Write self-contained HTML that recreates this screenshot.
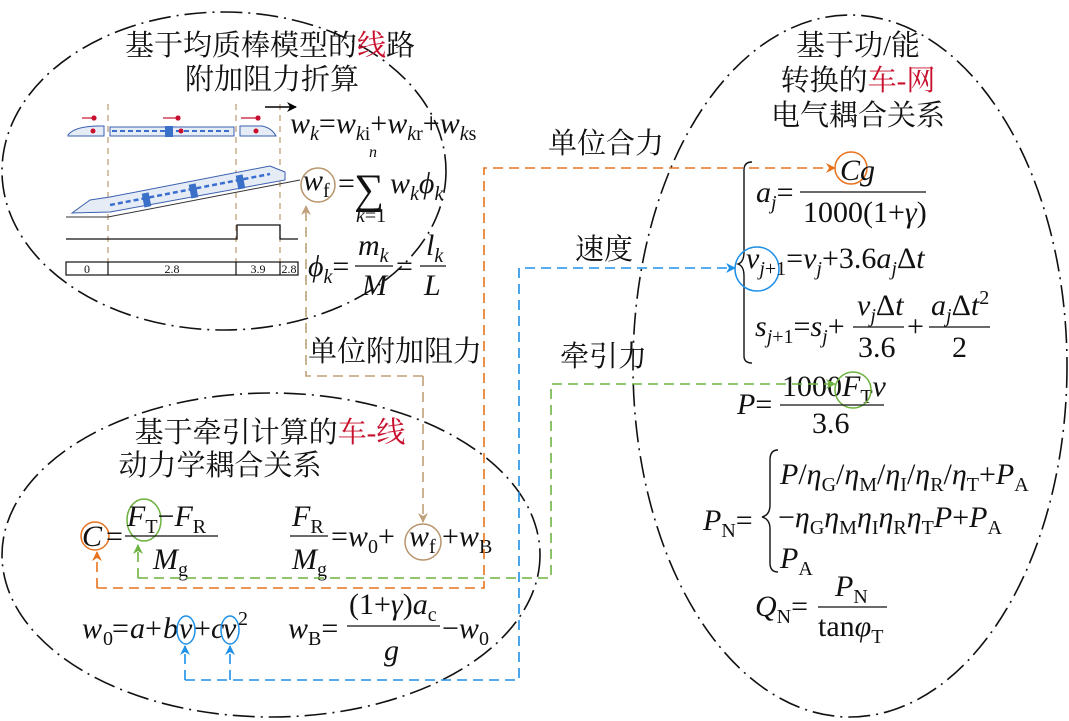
<!DOCTYPE html>
<html><head><meta charset="utf-8"><style>
html,body{margin:0;padding:0;background:#fff;}
svg{display:block}
.cn{font-family:"Liberation Serif","Noto Serif CJK SC","Noto Sans CJK SC",serif;font-size:29px;fill:#111}
.m{font-family:"Liberation Serif",serif;font-size:30px;font-style:italic;fill:#111}
.r{font-style:normal}
.s{font-size:20px}
</style></head><body>
<svg width="1069" height="721" viewBox="0 0 1069 721" xmlns="http://www.w3.org/2000/svg">
<defs>
<marker id="ao" markerWidth="10" markerHeight="10" refX="9" refY="5" orient="auto" markerUnits="userSpaceOnUse"><path d="M0,0 L10,5 L0,10 L3,5z" fill="#e8731e"/></marker>
<marker id="ag" markerWidth="10" markerHeight="10" refX="9" refY="5" orient="auto" markerUnits="userSpaceOnUse"><path d="M0,0 L10,5 L0,10 L3,5z" fill="#6db33f"/></marker>
<marker id="ab" markerWidth="10" markerHeight="10" refX="9" refY="5" orient="auto" markerUnits="userSpaceOnUse"><path d="M0,0 L10,5 L0,10 L3,5z" fill="#1e90e8"/></marker>
<marker id="at" markerWidth="10" markerHeight="10" refX="9" refY="5" orient="auto" markerUnits="userSpaceOnUse"><path d="M0,0 L10,5 L0,10 L3,5z" fill="#c0a07a"/></marker>
<marker id="ak" markerWidth="10" markerHeight="10" refX="9" refY="5" orient="auto" markerUnits="userSpaceOnUse"><path d="M0,0 L10,5 L0,10 L3,5z" fill="#000"/></marker>
</defs>
<g fill="none" stroke="#111" stroke-width="1.6" stroke-dasharray="22 6 2 6">
<ellipse cx="224" cy="171" rx="222" ry="159"/>
<ellipse cx="271" cy="555" rx="269" ry="162"/>
<ellipse cx="850" cy="366" rx="217" ry="351"/>
</g>
<text class="cn" x="270" y="55" text-anchor="middle">基于均质棒模型的<tspan fill="#c8102e">线</tspan>路</text>
<text class="cn" x="272" y="89" text-anchor="middle">附加阻力折算</text>
<text class="cn" x="270" y="442" text-anchor="middle">基于牵引计算的<tspan fill="#c8102e">车-线</tspan></text>
<text class="cn" x="220" y="475" text-anchor="middle">动力学耦合关系</text>
<text class="cn" x="858" y="55" text-anchor="middle">基于功/能</text>
<text class="cn" x="858" y="90" text-anchor="middle">转换的<tspan fill="#c8102e">车-网</tspan></text>
<text class="cn" x="858" y="125" text-anchor="middle">电气耦合关系</text>
<text class="cn" x="548" y="153">单位合力</text>
<text class="cn" x="575" y="259">速度</text>
<text class="cn" x="560" y="366">牵引力</text>
<text class="cn" x="308" y="361">单位附加阻力</text>

<g stroke="#c0a07a" stroke-width="1.3" stroke-dasharray="6 5">
<line x1="108" y1="104" x2="108" y2="276"/>
<line x1="236" y1="104" x2="236" y2="276"/>
<line x1="280" y1="104" x2="280" y2="276"/>
</g>
<line x1="265" y1="107" x2="296" y2="107" stroke="#000" stroke-width="1.5" marker-end="url(#ak)"/>
<g fill="#c8102e" stroke="#c8102e" stroke-width="1.2">
<line x1="82" y1="118" x2="94" y2="118"/><circle cx="94" cy="118" r="2"/>
<line x1="163" y1="118" x2="178" y2="118"/><circle cx="178" cy="118" r="2"/>
<line x1="241" y1="118" x2="258" y2="118"/><circle cx="258" cy="118" r="2"/>
</g>
<g>
<path d="M68,135 Q75,126 100,126 L104,126 L104,136 L68,136z" fill="#e6ecf6" stroke="#3a5fb0" stroke-width="1"/>
<rect x="110" y="127" width="124" height="9" fill="#e6ecf6" stroke="#3a5fb0" stroke-width="1"/>
<line x1="112" y1="131" x2="232" y2="131" stroke="#3a6fd0" stroke-width="2" stroke-dasharray="5 3"/>
<rect x="165" y="126" width="8" height="11" fill="#3a70c8"/>
<path d="M240,126 L262,126 Q272,128 276,136 L240,136z" fill="#e6ecf6" stroke="#3a5fb0" stroke-width="1"/>
<circle cx="93" cy="131" r="2.5" fill="#c8102e"/><circle cx="181" cy="131" r="2.5" fill="#c8102e"/><circle cx="256" cy="131" r="2.5" fill="#c8102e"/>
</g>
<line x1="66" y1="217" x2="108" y2="217" stroke="#333" stroke-width="1"/>
<line x1="108" y1="217" x2="300" y2="180" stroke="#333" stroke-width="1"/>
<polygon points="72,213 90,200 110,197 270,166 285,172 285,180 110,212" fill="#e6ecf6" stroke="#3a5fb0" stroke-width="1"/>
<line x1="110" y1="205" x2="270" y2="174" stroke="#3a6fd0" stroke-width="2.5" stroke-dasharray="5 3"/>
<rect x="143" y="193" width="7" height="14" fill="#3a70c8" transform="rotate(-11 146 200)"/>
<rect x="190" y="184" width="7" height="14" fill="#3a70c8" transform="rotate(-11 193 191)"/>
<rect x="237" y="175" width="7" height="14" fill="#3a70c8" transform="rotate(-11 240 182)"/>
<polyline points="66,239 237,239 237,225 280,225 280,239 298,239" fill="none" stroke="#111" stroke-width="1.3"/>
<rect x="66" y="262" width="232" height="13" fill="#fff" stroke="#111" stroke-width="1.2"/>
<g stroke="#111" stroke-width="1.2"><line x1="108" y1="262" x2="108" y2="275"/><line x1="236" y1="262" x2="236" y2="275"/><line x1="280" y1="262" x2="280" y2="275"/></g>
<g font-family="Liberation Serif" font-size="12" fill="#111" text-anchor="middle">
<text x="87" y="273">0</text><text x="172" y="273">2.8</text><text x="258" y="273">3.9</text><text x="289" y="273">2.8</text></g>

<text class="m" x="290" y="133">w<tspan class="s" dy="7">k</tspan><tspan class="r" dy="-7">=</tspan>w<tspan class="s" dy="7">k<tspan class="r">i</tspan></tspan><tspan class="r" dy="-7">+</tspan>w<tspan class="s" dy="7">k<tspan class="r">r</tspan></tspan><tspan class="r" dy="-7">+</tspan>w<tspan class="s" dy="7">k<tspan class="r">s</tspan></tspan></text>
<circle cx="318" cy="185" r="17" fill="none" stroke="#b8946a" stroke-width="1.5"/>
<text class="m" x="303" y="190">w<tspan class="s r" dy="7">f</tspan></text>
<text class="m r" x="338" y="193">=</text>
<text class="m r" x="354" y="203" style="font-size:42px">∑</text>
<text class="m" x="369" y="157" style="font-size:16px">n</text>
<text class="m s" x="356" y="222">k<tspan class="r">=1</tspan></text>
<text class="m" x="390" y="193">w<tspan class="s" dy="7">k</tspan><tspan dy="-7">ϕ</tspan><tspan class="s" dy="7">k</tspan></text>
<text class="m" x="308" y="276">ϕ<tspan class="s" dy="7">k</tspan><tspan class="r" dy="-7">=</tspan></text>
<text class="m" x="358" y="255">m<tspan class="s" dy="7">k</tspan></text>
<line x1="355" y1="266" x2="393" y2="266" stroke="#111" stroke-width="1.3"/>
<text class="m" x="362" y="295">M</text>
<text class="m r" x="396" y="276">=</text>
<text class="m" x="426" y="255">l<tspan class="s" dy="7">k</tspan></text>
<line x1="420" y1="266" x2="446" y2="266" stroke="#111" stroke-width="1.3"/>
<text class="m" x="424" y="295">L</text>

<circle cx="95" cy="536" r="14" fill="none" stroke="#e8731e" stroke-width="1.5"/>
<text class="m" x="82" y="546">C</text>
<text class="m r" x="106" y="546">=</text>
<ellipse cx="144" cy="520" rx="17" ry="21" fill="none" stroke="#6db33f" stroke-width="1.5"/>
<text class="m" x="127" y="526">F<tspan class="s r" dy="7">T</tspan><tspan class="r" dy="-7">−</tspan>F<tspan class="s r" dy="7">R</tspan></text>
<line x1="125" y1="536" x2="218" y2="536" stroke="#111" stroke-width="1.3"/>
<text class="m" x="153" y="569">M<tspan class="s r" dy="7">g</tspan></text>
<text class="m" x="292" y="526">F<tspan class="s r" dy="7">R</tspan></text>
<line x1="290" y1="536" x2="328" y2="536" stroke="#111" stroke-width="1.3"/>
<text class="m" x="292" y="569">M<tspan class="s r" dy="7">g</tspan></text>
<text class="m" x="331" y="546"><tspan class="r">=</tspan>w<tspan class="s r" dy="7">0</tspan><tspan class="r" dy="-7">+</tspan></text>
<circle cx="423" cy="542" r="18" fill="none" stroke="#b8946a" stroke-width="1.5"/>
<text class="m" x="409" y="546">w<tspan class="s r" dy="7">f</tspan></text>
<text class="m" x="442" y="546"><tspan class="r">+</tspan>w<tspan class="s r" dy="7">B</tspan></text>

<text class="m" x="82" y="638">w</text>
<text class="m s r" x="103" y="645">0</text>
<text class="m r" x="112" y="638">=</text>
<text class="m" x="130" y="638">a</text>
<text class="m r" x="145" y="638">+</text>
<text class="m" x="163" y="638">b</text>
<text class="m" x="179" y="638">v</text>
<text class="m r" x="194" y="638">+</text>
<text class="m" x="211" y="638">c</text>
<text class="m" x="223" y="638">v</text>
<text class="m s r" x="238" y="625">2</text>
<ellipse cx="186" cy="630" rx="9" ry="14" fill="none" stroke="#1e90e8" stroke-width="1.5"/>
<ellipse cx="230" cy="630" rx="9" ry="14" fill="none" stroke="#1e90e8" stroke-width="1.5"/>
<text class="m" x="288" y="638">w<tspan class="s r" dy="7">B</tspan><tspan class="r" dy="-7">=</tspan></text>
<text class="m" x="349" y="614"><tspan class="r">(1+</tspan>γ<tspan class="r">)</tspan>a<tspan class="s r" dy="7">c</tspan></text>
<line x1="347" y1="626" x2="440" y2="626" stroke="#111" stroke-width="1.3"/>
<text class="m" x="384" y="660">g</text>
<text class="m" x="442" y="638"><tspan class="r">−</tspan>w<tspan class="s r" dy="7">0</tspan></text>

<path d="M752,162 Q744,162 744,170 L744,252 Q744,262 738,264 Q744,266 744,276 L744,356 Q744,363 752,363" fill="none" stroke="#111" stroke-width="1.4"/>
<text class="m" x="756" y="202">a<tspan class="s" dy="7">j</tspan><tspan class="r" dy="-7">=</tspan></text>
<circle cx="851" cy="168" r="16" fill="none" stroke="#e8731e" stroke-width="1.5"/>
<text class="m" x="840" y="180">Cg</text>
<line x1="800" y1="192" x2="926" y2="192" stroke="#111" stroke-width="1.3"/>
<text class="m r" x="803" y="222">1000(1+<tspan class="m">γ</tspan>)</text>
<circle cx="757" cy="269" r="22" fill="none" stroke="#1e90e8" stroke-width="1.5"/>
<text class="m" x="746" y="268">v<tspan class="s" dy="7">j<tspan class="r">+1</tspan></tspan><tspan class="r" dy="-7">=</tspan>v<tspan class="s" dy="7">j</tspan><tspan class="r" dy="-7">+3.6</tspan>a<tspan class="s" dy="7">j</tspan><tspan class="r" dy="-7">Δ</tspan>t</text>
<text class="m" x="755" y="336">s<tspan class="s" dy="7">j<tspan class="r">+1</tspan></tspan><tspan class="r" dy="-7">=</tspan>s<tspan class="s" dy="7">j</tspan><tspan class="r" dy="-7">+</tspan></text>
<text class="m" x="857" y="315">v<tspan class="s" dy="7">j</tspan><tspan class="r" dy="-7">Δ</tspan>t</text>
<line x1="853" y1="327" x2="904" y2="327" stroke="#111" stroke-width="1.3"/>
<text class="m r" x="858" y="357">3.6</text>
<text class="m r" x="907" y="336">+</text>
<text class="m" x="931" y="315">a<tspan class="s" dy="7">j</tspan><tspan class="r" dy="-7">Δ</tspan>t<tspan class="s r" dy="-11">2</tspan></text>
<line x1="929" y1="327" x2="990" y2="327" stroke="#111" stroke-width="1.3"/>
<text class="m r" x="952" y="357">2</text>
<text class="m" x="737" y="414">P<tspan class="r">=</tspan></text>
<text class="m r" x="782" y="396">1000<tspan class="m">F</tspan><tspan class="s" dy="7">T</tspan><tspan class="m" dy="-7">v</tspan></text>
<circle cx="853" cy="390" r="18" fill="none" stroke="#6db33f" stroke-width="1.5"/>
<line x1="780" y1="405" x2="884" y2="405" stroke="#111" stroke-width="1.3"/>
<text class="m r" x="812" y="433">3.6</text>
<text class="m" x="703" y="530">P<tspan class="s r" dy="7">N</tspan><tspan class="r" dy="-7">=</tspan></text>
<path d="M778,450 Q770,450 770,460 L770,505 Q770,515 762,517 Q770,519 770,529 L770,563 Q770,572 778,572" fill="none" stroke="#111" stroke-width="1.4"/>
<text class="m" x="780" y="484">P<tspan class="r">/</tspan>η<tspan class="s r" dy="7">G</tspan><tspan class="r" dy="-7">/</tspan>η<tspan class="s r" dy="7">M</tspan><tspan class="r" dy="-7">/</tspan>η<tspan class="s r" dy="7">I</tspan><tspan class="r" dy="-7">/</tspan>η<tspan class="s r" dy="7">R</tspan><tspan class="r" dy="-7">/</tspan>η<tspan class="s r" dy="7">T</tspan><tspan class="r" dy="-7">+</tspan>P<tspan class="s r" dy="7">A</tspan></text>
<text class="m" x="778" y="527"><tspan class="r">−</tspan>η<tspan class="s r" dy="7">G</tspan><tspan dy="-7">η</tspan><tspan class="s r" dy="7">M</tspan><tspan dy="-7">η</tspan><tspan class="s r" dy="7">I</tspan><tspan dy="-7">η</tspan><tspan class="s r" dy="7">R</tspan><tspan dy="-7">η</tspan><tspan class="s r" dy="7">T</tspan><tspan dy="-7">P</tspan><tspan class="r">+</tspan>P<tspan class="s r" dy="7">A</tspan></text>
<text class="m" x="780" y="568">P<tspan class="s r" dy="7">A</tspan></text>
<text class="m" x="755" y="616">Q<tspan class="s r" dy="7">N</tspan><tspan class="r" dy="-7">=</tspan></text>
<text class="m" x="835" y="596">P<tspan class="s r" dy="7">N</tspan></text>
<line x1="818" y1="607" x2="887" y2="607" stroke="#111" stroke-width="1.3"/>
<text class="m r" x="818" y="636">tan<tspan class="m">φ</tspan><tspan class="s" dy="7">T</tspan></text>

<g fill="none" stroke-width="1.6" stroke-dasharray="10 6">
<polyline points="97,588 484,588 484,168 835,168" stroke="#e8731e" marker-end="url(#ao)"/>
<line x1="97" y1="588" x2="97" y2="552" stroke="#e8731e" marker-end="url(#ao)"/>
<polyline points="138,578 551,578 551,384 835,384" stroke="#6db33f" marker-end="url(#ag)"/>
<line x1="138" y1="578" x2="138" y2="545" stroke="#6db33f" marker-end="url(#ag)"/>
<polyline points="185,680 519,680 519,268 735,268" stroke="#1e90e8" marker-end="url(#ab)"/>
<line x1="185" y1="680" x2="185" y2="646" stroke="#1e90e8" marker-end="url(#ab)"/>
<line x1="230" y1="680" x2="230" y2="646" stroke="#1e90e8" marker-end="url(#ab)"/>
<polyline points="423,376 306,376 306,206" stroke="#c0a07a" marker-end="url(#at)"/>
<line x1="423" y1="376" x2="423" y2="522" stroke="#c0a07a" marker-end="url(#at)"/>
</g>
</svg>
</body></html>
